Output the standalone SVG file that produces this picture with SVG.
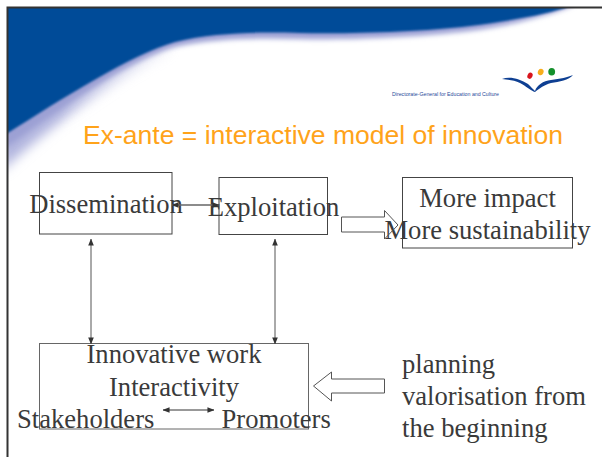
<svg xmlns="http://www.w3.org/2000/svg" width="602" height="457" viewBox="0 0 602 457">
<style>
.t{font-family:"Liberation Serif",serif;font-size:26.6px;fill:#3a3a3a}
.m{text-anchor:middle}
.b{fill:none;stroke:#444;stroke-width:1}
.l{stroke:#555;stroke-width:1;fill:none}
.a{fill:#fff;stroke:#555;stroke-width:1}
</style>
<defs>
<marker id="h" viewBox="0 0 8 8" refX="7.500" refY="4" markerWidth="7" markerHeight="7" orient="auto-start-reverse" markerUnits="userSpaceOnUse"><path d="M0 0.800L8 4L0 7.200Z" fill="#333"/></marker>
<filter id="f1" x="-10%" y="-10%" width="120%" height="130%"><feGaussianBlur stdDeviation="1"/></filter>
<filter id="f3" x="-10%" y="-10%" width="120%" height="130%"><feGaussianBlur stdDeviation="2.500"/></filter>
<filter id="f2" x="-10%" y="-10%" width="120%" height="130%"><feGaussianBlur stdDeviation="6"/></filter>
<linearGradient id="fade" x1="0" y1="0" x2="1" y2="0"><stop offset="0" stop-color="#fff"/><stop offset="0.2" stop-color="#fff"/><stop offset="0.6" stop-color="#000"/></linearGradient>
<mask id="left" maskUnits="userSpaceOnUse" x="0" y="0" width="602" height="457"><rect width="300" height="300" fill="url(#fade)"/></mask>
<clipPath id="c"><rect x="8" y="8" width="594" height="449"/></clipPath>
</defs>
<rect width="602" height="457" fill="#fff"/>
<g id="banner" clip-path="url(#c)">
<path d="M0 0H300V40C260 40 215 40 175 52C130 68 60 118 0 172Z" fill="#b0b4de" filter="url(#f2)" mask="url(#left)"/>
<path d="M0 0H580L570 7C535 20 500 27 470 31C420 37 350 40 300 39C260 38 215 38 175 47C130 60 60 108 0 152Z" fill="#9ca0d4" filter="url(#f3)"/>
<path d="M0 0H574L565 8C535 17 500 22 470 26C420 32 350 34 300 33C260 32 215 32 175 42C130 55 60 100 0 138Z" fill="#004b98" filter="url(#f1)"/>
</g>
<path d="M7.500 457V7.500H602" fill="none" stroke="#333" stroke-width="2"/>
<g id="logo">
<path d="M502 79C510 76 520 79 528 84C531 87 533 89 535 91C537 85 543 81 551 80C560 79 568 77 573 75C569 80 559 82 551 83C544 85 540 88 535 92C531 91 526 86 520 83C514 80 508 80 502 79Z" fill="#0e3f92"/>
<ellipse cx="530" cy="75.700" rx="2.500" ry="3.200" fill="#d8141c" transform="rotate(25 530 75.700)"/>
<ellipse cx="540.700" cy="72" rx="2.800" ry="3.300" fill="#f8ae1c" transform="rotate(25 540.700 72)"/>
<ellipse cx="551.700" cy="71.700" rx="3.400" ry="3.800" fill="#14902c"/>
<text x="392" y="96" font-family="Liberation Sans,sans-serif" font-size="5.300" fill="#2a4a9a" textLength="107" lengthAdjust="spacingAndGlyphs">Directorate-General for Education and Culture</text>
</g>
<text id="title" x="83" y="143.500" font-family="Liberation Sans,sans-serif" font-size="26px" fill="#ffa31a" textLength="480" lengthAdjust="spacingAndGlyphs">Ex-ante = interactive model of innovation</text>
<g id="dissemination"><rect class="b" x="39.500" y="172.500" width="132.500" height="61.500"/><text class="t m" x="106" y="213">Dissemination</text></g>
<g id="exploitation"><rect class="b" x="219" y="177.500" width="108.500" height="57"/><text class="t m" x="273.500" y="216">Exploitation</text></g>
<g id="impact"><rect class="b" x="402.500" y="177.500" width="170" height="70.500"/><text class="t m" x="487.500" y="207">More impact</text><text class="t m" x="487.500" y="239">More sustainability</text></g>
<g id="work"><rect class="b" x="39.500" y="343.500" width="269" height="85.500" style="stroke:#666"/><text class="t m" x="174" y="363">Innovative work</text><text class="t m" x="174" y="396">Interactivity</text><text class="t" x="17" y="427.500">Stakeholders</text><text class="t" x="221.500" y="427.500">Promoters</text></g>
<g id="planning"><text class="t" x="402" y="373">planning</text><text class="t" x="402" y="405">valorisation from</text><text class="t" x="402" y="437">the beginning</text></g>
<g id="connectors">
<line class="l" x1="172" y1="205" x2="219" y2="205" marker-start="url(#h)" marker-end="url(#h)" style="stroke-width:1.500;stroke:#666"/>
<line class="l" x1="91" y1="239" x2="91" y2="344" marker-start="url(#h)" marker-end="url(#h)"/>
<line class="l" x1="275" y1="239" x2="275" y2="344" marker-start="url(#h)" marker-end="url(#h)"/>
<line class="l" x1="163" y1="410" x2="214" y2="410" marker-start="url(#h)" marker-end="url(#h)" style="stroke:#333"/>
<path class="a" d="M341.500 217H384.500V210.500L398 225L384.500 239V232H341.500Z" style="fill:none"/>
<path class="a" d="M384.500 379V393H331.500V401L313.500 386L331.500 372V379Z"/>
</g>
</svg>
